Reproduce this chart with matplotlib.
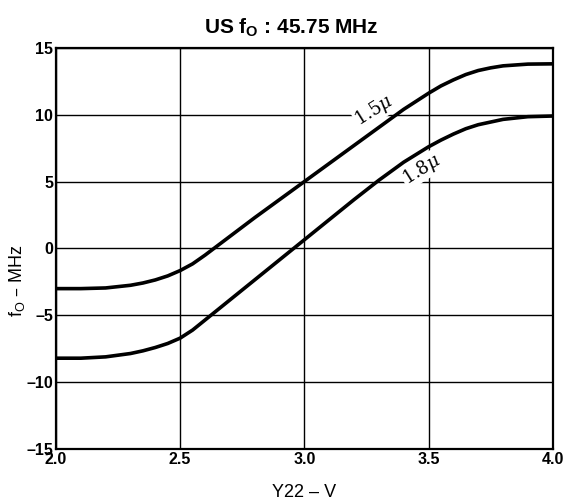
import matplotlib
matplotlib.use("Agg")
import matplotlib.pyplot as plt

plt.rcParams["mathtext.fontset"] = "dejavuserif"

# values
volts_15 = [2.0, 2.1, 2.2, 2.3, 2.35, 2.4, 2.45, 2.5, 2.55, 2.6, 2.65, 2.7,
            2.8, 2.9, 3.0, 3.1, 3.2, 3.3, 3.4, 3.5, 3.55, 3.6, 3.65, 3.7,
            3.75, 3.8, 3.9, 4.0]
freq_15 = [-3.0, -3.0, -2.95, -2.75, -2.58, -2.35, -2.05, -1.65, -1.15, -0.5,
           0.2, 0.9, 2.3, 3.65, 5.0, 6.35, 7.7, 9.05, 10.4, 11.6, 12.15, 12.6,
           13.0, 13.3, 13.5, 13.65, 13.78, 13.8]

volts_18 = [2.0, 2.1, 2.2, 2.3, 2.35, 2.4, 2.45, 2.5, 2.55, 2.6, 2.65, 2.7,
            2.8, 2.9, 2.95, 3.0, 3.1, 3.2, 3.3, 3.4, 3.5, 3.55, 3.6, 3.65,
            3.7, 3.8, 3.9, 4.0]
freq_18 = [-8.2, -8.2, -8.1, -7.85, -7.65, -7.4, -7.1, -6.7, -6.1, -5.35,
           -4.6, -3.85, -2.35, -0.85, -0.1, 0.65, 2.15, 3.65, 5.1, 6.45, 7.6,
           8.1, 8.55, 8.95, 9.25, 9.65, 9.85, 9.9]

x_ticks = [2.0, 2.5, 3.0, 3.5, 4.0]
x_tick_labels = ["2.0", "2.5", "3.0", "3.5", "4.0"]
y_ticks = [-15, -10, -5, 0, 5, 10, 15]
y_tick_labels = ["\u201315", "\u201310", "\u20135", "0", "5", "10", "15"]

fig = plt.figure(figsize=(5.71, 5.03), dpi=100)
ax = fig.add_axes([0.098, 0.107, 0.870, 0.798])

ax.plot(volts_15, freq_15, color="black", linewidth=2.6, zorder=3)
ax.plot(volts_18, freq_18, color="black", linewidth=2.6, zorder=3)

ax.set_xlim(2.0, 4.0)
ax.set_ylim(-15, 15)
ax.set_xticks(x_ticks, x_tick_labels)
ax.set_yticks(y_ticks, y_tick_labels)
ax.tick_params(length=0, pad=2, labelsize=11.5)
for lab in ax.get_xticklabels() + ax.get_yticklabels():
    lab.set_fontweight("bold")
    lab.set_family("Liberation Sans")
ax.grid(color="black", linewidth=1.0)
for sp in ax.spines.values():
    sp.set_linewidth(1.6)

ax.text(3.28, 10.3, r"$1.5\mu$", rotation=32, ha="center", va="center",
        fontsize=13, zorder=4,
        bbox=dict(facecolor="white", edgecolor="none", pad=0.5))
ax.text(3.47, 5.9, r"$1.8\mu$", rotation=32, ha="center", va="center",
        fontsize=13, zorder=4,
        bbox=dict(facecolor="white", edgecolor="none", pad=0.5))

fig.text(0.51, 0.945, r"US f$_\mathregular{O}$ : 45.75 MHz", ha="center",
         va="center", fontsize=15, fontweight="bold", family="Liberation Sans")
ax.set_xlabel("Y22 \u2013 V", fontsize=13, family="Liberation Sans",
              labelpad=12)
ax.set_ylabel("f$_\\mathregular{O}$ \u2013 MHz", fontsize=13,
              family="Liberation Sans")
ax.yaxis.set_label_coords(-0.058, 0.42)

fig.savefig("out.png", dpi=100)
